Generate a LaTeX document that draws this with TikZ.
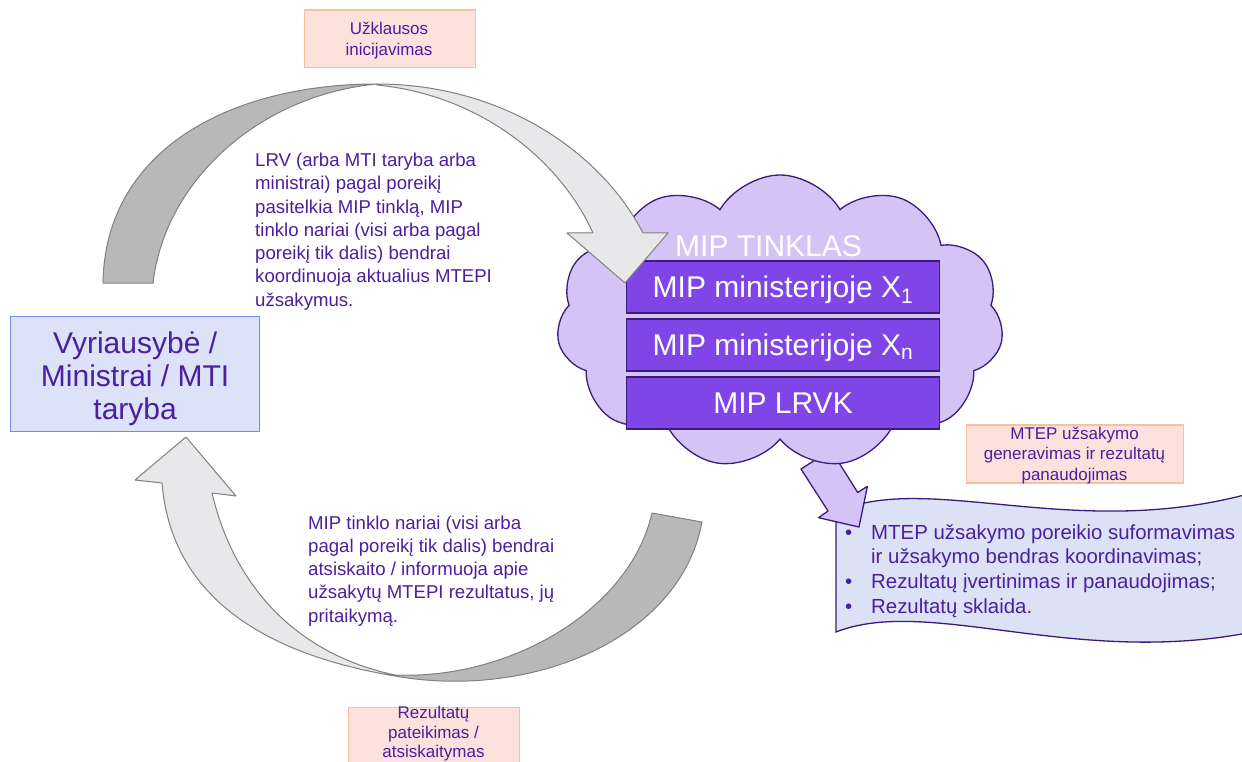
\documentclass[tikz,border=0pt]{standalone}
\usepackage{fontspec}
\setmainfont{Liberation Sans}
\usetikzlibrary{shapes.symbols}
\definecolor{txt}{HTML}{4B1F9E}
\definecolor{dkpurple}{HTML}{3B1C7A}
\definecolor{cloudfill}{HTML}{D4C4F5}
\definecolor{boxfill}{HTML}{7F45E6}
\definecolor{pinkfill}{HTML}{FCE1DC}
\definecolor{pinkline}{HTML}{FBBF9B}
\definecolor{bluefill}{HTML}{DCE2F7}
\definecolor{blueline}{HTML}{6F8FE3}
\definecolor{wavefill}{HTML}{DCE1F6}
\definecolor{arrowline}{HTML}{808080}
\definecolor{arrowdark}{HTML}{B8B8B8}
\definecolor{arrowlight}{HTML}{E8E7E9}
\tikzset{
  arrowback/.style={fill=arrowdark, draw=arrowline, line width=1pt, line join=round},
  arrowfront/.style={fill=arrowlight, draw=arrowline, line width=1pt, line join=round},
  mipbox/.style={draw=dkpurple, fill=boxfill, line width=1.3pt, minimum width=313pt,
    minimum height=52pt, text=white, font=\fontsize{30}{33}\selectfont,
    text height=21.5pt, text depth=0pt, inner sep=0pt},
  tagbox/.style={draw=pinkline, fill=pinkfill, line width=1.3pt, anchor=north west, inner sep=0pt},
  tagtext/.style={text=txt, inner sep=0pt, anchor=base, font=\fontsize{17}{20.5}\selectfont},
  bodytext/.style={text=txt, inner sep=0pt, anchor=base west, font=\fontsize{18.6}{23.3}\selectfont},
  purplearrow/.style={fill=cloudfill, draw=dkpurple, line width=1.3pt, line join=round},
}
\begin{document}
\begin{tikzpicture}[x=1pt,y=-1pt]
\useasboundingbox (0,0) rectangle (1242,762);
\clip (0,0) rectangle (1242,762);

% bottom curved arrow (back face, then front face with head)
\draw[arrowback] (395,676) .. controls (530,700) and (680,640) .. (702,522)
  -- (652,513) .. controls (630,610) and (510,680) .. (395,675) -- cycle;
\draw[arrowfront] (395,676) .. controls (240,650) and (170,580) .. (162,483)
  -- (135,480) -- (186,437) -- (236,496) -- (212,493)
  .. controls (235,590) and (300,655) .. (395,675) -- cycle;

% top curved arrow back face
\draw[arrowback] (103,283) .. controls (105,150) and (230,84) .. (377,84)
  .. controls (260,95) and (165,180) .. (153,283) -- cycle;

% wave box
\draw[draw=dkpurple, fill=wavefill, line width=1.3pt]
  (836,512) .. controls (930,470) and (1080,545) .. (1262,490)
  -- (1262,630) .. controls (1080,670) and (930,595) .. (836,632) -- cycle;
\node[text=txt, inner sep=0pt, anchor=base west, font=\fontsize{20.4}{24.7}\selectfont] (tasks) at (845,539)
  {\parbox[t]{420pt}{\raggedright
   \makebox[26pt][l]{•}MTEP užsakymo poreikio suformavimas\\
   \hspace*{26pt}ir užsakymo bendras koordinavimas;\\
   \makebox[26pt][l]{•}Rezultatų įvertinimas ir panaudojimas;\\
   \makebox[26pt][l]{•}Rezultatų sklaida.}};

% arrow from cloud to wave box
\draw[purplearrow] (801,469) -- (828,511) -- (818.6,517.7) -- (859,527)
  -- (867.4,486.3) -- (857.7,492.5) -- (831,450) -- cycle;

% cloud
\node[cloud, cloud puffs=11, cloud puff arc=120, cloud ignores aspect,
  minimum width=447pt, minimum height=294pt, draw=dkpurple, fill=cloudfill,
  line width=1.3pt, inner sep=0pt] (net) at (780,322) {};
\node[text=white, inner sep=0pt, anchor=base west, font=\fontsize{30}{33}\selectfont] (nettitle) at (675,256) {MIP TINKLAS};
\node[mipbox] (mx1) at (783,287) {MIP ministerijoje X\textsubscript{1}};
\node[mipbox] (mxn) at (783,345) {MIP ministerijoje X\textsubscript{n}};
\node[mipbox] (lrvk) at (783,403) {MIP LRVK};

% top curved arrow front face with head
\draw[arrowfront] (377,84) .. controls (500,84) and (600,150) .. (643,233)
  -- (668,233) -- (625,283) -- (567,233) -- (593,233)
  .. controls (560,160) and (480,95) .. (377,85) -- cycle;

% government box
\node[draw=blueline, fill=bluefill, line width=1.3pt, minimum width=249pt,
  minimum height=115pt, anchor=north west, inner sep=0pt] (gov) at (10,316) {};
\node[text=txt, inner sep=0pt, anchor=base, font=\fontsize{30}{33}\selectfont] (govtxt) at (gov.center |- 0,353)
  {\parbox[t]{245pt}{\centering Vyriausybė /\\Ministrai / MTI\\taryba}};

% labels
\node[tagbox, minimum width=171pt, minimum height=57.5pt] (ask) at (304,9.3) {};
\node[tagtext] (asktxt) at (389,35) {\parbox[t]{165pt}{\centering Užklausos\\inicijavimas}};

\node[tagbox, minimum width=217pt, minimum height=58pt] (gen) at (966,424.3) {};
\node[tagtext] (gentxt) at (1074.5,439) {\parbox[t]{215pt}{\centering MTEP užsakymo\\generavimas ir rezultatų\\panaudojimas}};

\node[tagbox, minimum width=171pt, minimum height=70pt] (res) at (348,707) {};
\node[tagtext, font=\fontsize{17}{19.5}\selectfont] (restxt) at (433.5,718.5) {\parbox[t]{165pt}{\centering Rezultatų\\pateikimas /\\atsiskaitymas}};

% body texts
\node[bodytext] (reqtxt) at (255,166.5) {\parbox[t]{300pt}{\raggedright
  LRV (arba MTI taryba arba\\
  ministrai) pagal poreikį\\
  pasitelkia MIP tinklą, MIP\\
  tinklo nariai (visi arba pagal\\
  poreikį tik dalis) bendrai\\
  koordinuoja aktualius MTEPI\\
  užsakymus.}};
\node[bodytext] (reptxt) at (308,529) {\parbox[t]{300pt}{\raggedright
  MIP tinklo nariai (visi arba\\
  pagal poreikį tik dalis) bendrai\\
  atsiskaito / informuoja apie\\
  užsakytų MTEPI rezultatus, jų\\
  pritaikymą.}};
\end{tikzpicture}
\end{document}
